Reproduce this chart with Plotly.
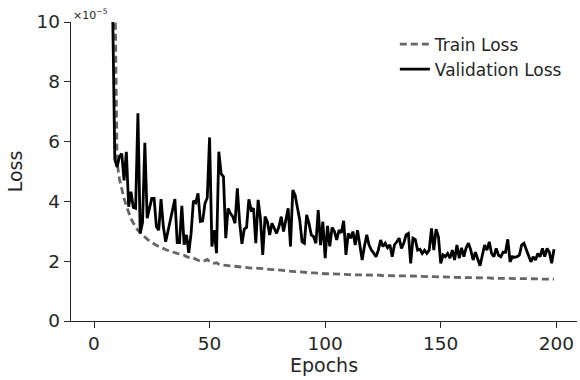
import plotly.graph_objects as go

train_loss = [
    60, 40, 30, 24, 20, 17, 15, 13.5, 12.3, 11.5,
    5.3, 4.75, 4.4, 4.1, 3.85, 3.6, 3.42, 3.28, 3.15, 3.03,
    2.95, 2.87, 2.8, 2.74, 2.68, 2.62, 2.58, 2.53, 2.49, 2.45,
    2.42, 2.39, 2.36, 2.33, 2.31, 2.28, 2.26, 2.24, 2.22, 2.2,
    2.15, 2.13, 2.14, 2.1, 2.05, 2.03, 2.0, 1.99, 2.02, 2.06,
    1.98, 1.95, 1.93, 1.95, 1.9, 1.88, 1.87, 1.86, 1.85, 1.84,
    1.83, 1.82, 1.81, 1.8, 1.8, 1.79, 1.78, 1.78, 1.77, 1.78,
    1.77, 1.77, 1.76, 1.75, 1.75, 1.74, 1.73, 1.72, 1.72, 1.71,
    1.7, 1.69, 1.69, 1.68, 1.67, 1.67, 1.66, 1.65, 1.65, 1.64,
    1.63, 1.63, 1.62, 1.62, 1.61, 1.61, 1.6, 1.6, 1.59, 1.59,
    1.58, 1.58, 1.58, 1.57, 1.57, 1.57, 1.56, 1.56, 1.56, 1.56,
    1.55, 1.55, 1.55, 1.55, 1.55, 1.54, 1.54, 1.54, 1.54, 1.54,
    1.54, 1.53, 1.53, 1.53, 1.53, 1.52, 1.52, 1.52, 1.52, 1.52,
    1.51, 1.51, 1.51, 1.51, 1.51, 1.5, 1.5, 1.5, 1.5, 1.5,
    1.5, 1.49, 1.49, 1.49, 1.49, 1.48, 1.48, 1.48, 1.48, 1.48,
    1.47, 1.47, 1.47, 1.47, 1.47, 1.46, 1.46, 1.46, 1.46, 1.46,
    1.46, 1.45, 1.45, 1.45, 1.45, 1.45, 1.44, 1.44, 1.44, 1.44,
    1.44, 1.44, 1.43, 1.43, 1.43, 1.43, 1.43, 1.43, 1.43, 1.42,
    1.43, 1.42, 1.42, 1.42, 1.42, 1.42, 1.41, 1.42, 1.41, 1.41,
    1.41, 1.41, 1.41, 1.4, 1.41, 1.4, 1.4, 1.4, 1.4, 1.4,
]

val_loss = [
    90, 60, 42, 32, 25, 20, 16, 13, 10.8, 5.4,
    5.15, 5.5, 5.6, 4.7, 5.66, 3.82, 4.32, 3.8, 3.77, 6.95,
    2.93, 3.3, 5.96, 3.44, 3.82, 4.1, 4.1, 3.15, 3.04, 4.08,
    3.15, 2.65, 3.0, 3.38, 3.7, 4.08, 2.62, 2.62, 3.85, 2.55,
    2.88, 2.28, 2.93, 4.02, 3.96, 4.27, 3.33, 3.35, 3.93, 4.12,
    6.14, 2.49, 3.04, 2.27, 5.66, 4.92, 4.83, 2.77, 3.77, 3.6,
    3.5, 3.27, 4.44, 3.3, 2.58, 3.07, 3.13, 4.07, 3.71, 3.77,
    2.6, 4.05, 3.43, 2.21, 3.49, 3.32, 2.88, 3.27, 3.1, 2.93,
    3.15, 3.49, 2.99, 3.43, 3.77, 2.49, 4.38, 4.21, 3.8, 3.38,
    2.65, 2.6, 3.55, 3.27, 2.88, 2.82, 2.6, 3.71, 2.54, 3.32,
    2.1, 3.18, 2.5, 3.13, 3.0, 2.71, 3.04, 2.95, 3.35, 2.21,
    2.93, 2.77, 2.99, 2.54, 3.04, 2.6, 2.04, 2.5, 2.88, 2.54,
    2.37, 2.27, 2.15, 2.37, 2.71, 2.49, 2.6, 2.45, 2.55, 2.15,
    2.55, 2.65, 2.77, 2.43, 2.6, 2.88, 2.93, 1.93, 2.77, 2.72,
    2.37, 2.4, 2.26, 2.37, 2.26, 2.37, 3.1, 2.37, 3.07, 2.82,
    1.93, 2.21, 2.15, 2.26, 2.1, 2.37, 2.04, 2.54, 2.1, 2.45,
    2.15, 2.45, 2.6, 2.37, 2.04, 2.3, 2.1, 1.85, 2.2, 2.54,
    2.37, 2.65, 2.26, 2.15, 2.43, 2.2, 2.15, 2.3, 2.3, 2.73,
    1.98, 2.15, 2.13, 2.15, 2.2, 2.54, 2.6, 2.4, 2.15, 1.98,
    2.15, 2.04, 2.26, 2.15, 2.43, 2.15, 2.43, 2.3, 1.93, 2.4,
]

y_ticks = [0, 2, 4, 6, 8, 10]
x_ticks = [0, 50, 100, 150, 200]

train_epochs = list(range(len(train_loss)))
val_epochs = list(range(len(val_loss)))

ink = "#262626"
font = "DejaVu Sans"

fig = go.Figure()
fig.add_trace(go.Scatter(
    x=train_epochs, y=train_loss, mode="lines", name="Train Loss",
    line=dict(color="#666666", width=2.8, dash="7px,4px"),
))
fig.add_trace(go.Scatter(
    x=val_epochs, y=val_loss, mode="lines", name="Validation Loss",
    line=dict(color="#000000", width=2.8),
))

axis_common = dict(
    showline=True, linecolor=ink, linewidth=1.3,
    ticks="outside", ticklen=6, tickwidth=1.3, tickcolor=ink,
    showgrid=False, zeroline=False,
    tickfont=dict(family=font, size=18.5, color=ink),
    title_font=dict(family=font, size=19, color=ink),
)

fig.update_layout(
    width=580, height=380,
    margin=dict(l=71, r=3, t=22, b=59),
    paper_bgcolor="white", plot_bgcolor="white",
    font=dict(family=font, color=ink),
    xaxis=dict(range=[-9.95, 208.95], tickvals=x_ticks, title=dict(text="Epochs", standoff=2), **axis_common),
    yaxis=dict(range=[0, 10], tickvals=y_ticks, title=dict(text="Loss", standoff=8), **axis_common),
    legend=dict(x=0.64, y=0.985, xanchor="left", yanchor="top",
                font=dict(family=font, size=17, color=ink),
                bgcolor="rgba(0,0,0,0)", tracegroupgap=0),
    showlegend=True,
    annotations=[dict(
        text="×10<sup>−5</sup>", xref="paper", yref="paper", x=0, y=1,
        xanchor="left", yanchor="bottom", showarrow=False,
        font=dict(family=font, size=11, color=ink), yshift=-2,
    )],
)

fig.write_html("out.html")
